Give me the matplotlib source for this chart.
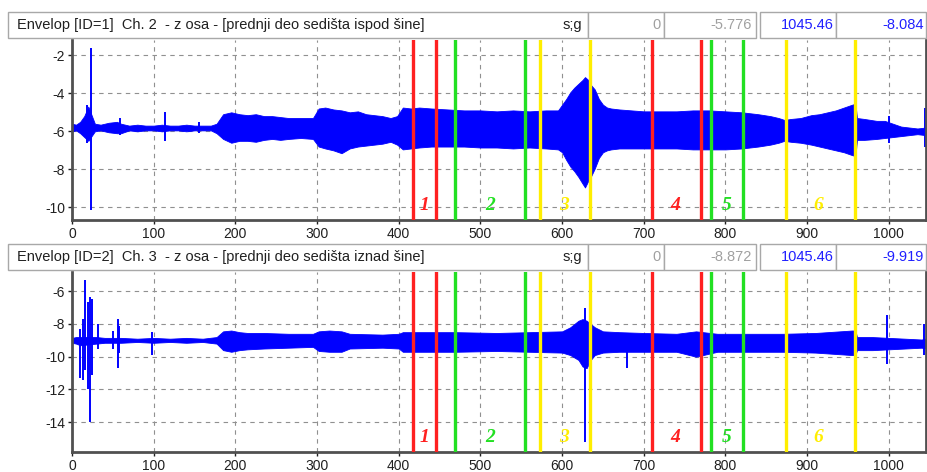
import matplotlib.pyplot as plt
from matplotlib.patches import Rectangle

# ---- data ----
# channel 2 (top): envelope of the signal, time in s, values in g
t1 = [0, 5, 10, 15, 20, 28, 35, 45, 55, 60, 70, 80, 90, 100, 110, 120, 130, 140, 150, 160,
      170, 177, 185, 195, 205, 215, 225, 235, 245, 255, 265, 280, 295, 302, 310, 320, 330,
      340, 350, 360, 370, 380, 390, 398, 405, 415, 425, 440, 460, 480, 500, 520, 540, 560,
      580, 595, 600, 605, 610, 615, 620, 625, 628, 632, 635, 640, 645, 650, 655, 660, 670,
      685, 700, 720, 740, 760, 780, 800, 820, 840, 855, 865, 872, 880, 892, 905, 915, 925,
      935, 945, 955, 959, 961, 970, 985, 995, 1005, 1015, 1025, 1035, 1045]
up1 = [-5.6, -5.65, -5.5, -5.2, -4.7, -5.6, -5.65, -5.55, -5.5, -5.6, -5.7, -5.65, -5.7, -5.7,
       -5.65, -5.7, -5.7, -5.65, -5.7, -5.7, -5.7, -5.6, -5.1, -5.0, -5.1, -5.15, -5.1, -5.2,
       -5.2, -5.25, -5.3, -5.3, -5.3, -4.8, -4.75, -4.85, -4.9, -5.0, -4.95, -5.1, -5.15, -5.2,
       -5.3, -5.2, -4.75, -4.8, -4.75, -4.8, -4.85, -4.9, -4.9, -4.95, -4.9, -4.95, -4.9, -4.9,
       -4.6, -4.3, -3.95, -3.7, -3.5, -3.3, -3.15, -3.3, -3.55, -3.8, -4.3, -4.6, -4.75, -4.8,
       -4.85, -4.9, -4.95, -4.95, -4.95, -4.9, -4.9, -4.95, -5.0, -5.1, -5.2, -5.3, -5.4, -5.35,
       -5.3, -5.15, -5.1, -5.0, -4.9, -4.75, -4.6, -4.55, -5.3, -5.35, -5.45, -5.45, -5.6, -5.75,
       -5.8, -5.85, -5.8]
lo1 = [-6.0, -5.95, -6.1, -6.3, -6.5, -6.0, -5.95, -6.05, -6.1, -6.1, -5.95, -6.0, -5.95, -5.95,
       -6.0, -5.95, -5.95, -6.0, -5.95, -5.95, -5.95, -6.1, -6.4, -6.6, -6.5, -6.5, -6.55, -6.45,
       -6.4, -6.45, -6.4, -6.35, -6.4, -6.8, -6.9, -7.0, -7.15, -6.9, -6.8, -6.75, -6.7, -6.65,
       -6.55, -6.7, -6.95, -6.9, -6.85, -6.8, -6.8, -6.8, -6.85, -6.85, -6.9, -6.85, -6.9, -6.95,
       -7.1, -7.5, -7.85, -8.1, -8.4, -8.75, -8.95, -8.6, -8.4, -7.95, -7.4, -7.1, -7.0, -6.95,
       -6.9, -6.9, -6.9, -6.9, -6.9, -6.95, -6.95, -6.95, -6.9, -6.8, -6.7, -6.6, -6.5, -6.55,
       -6.6, -6.7, -6.8, -6.9, -7.0, -7.1, -7.25, -7.3, -6.45, -6.45, -6.4, -6.35, -6.3, -6.25,
       -6.2, -6.15, -6.2]
spk1_t = [18, 23, 59, 114, 155, 1000, 1044]
spk1_lo = [-6.6, -10.15, -6.2, -6.5, -6.1, -6.6, -6.8]
spk1_hi = [-4.6, -1.6, -5.3, -5.0, -5.5, -5.2, -4.8]

# channel 3 (bottom)
t2 = [0, 5, 10, 30, 40, 60, 80, 100, 120, 140, 160, 177, 185, 195, 205, 215, 235, 265, 295,
      302, 315, 330, 340, 380, 400, 405, 430, 470, 520, 560, 600, 610, 620, 625, 630, 635,
      640, 650, 670, 700, 740, 764, 790, 830, 870, 910, 940, 955, 959, 961, 980, 1000, 1020,
      1040, 1045]
up2 = [-8.85, -8.8, -8.8, -8.8, -8.85, -8.85, -8.9, -8.85, -8.9, -8.85, -8.9, -8.8, -8.45, -8.4,
       -8.5, -8.55, -8.55, -8.6, -8.6, -8.45, -8.4, -8.45, -8.6, -8.65, -8.6, -8.5, -8.5, -8.5,
       -8.55, -8.5, -8.45, -8.2, -7.8, -7.7, -7.8, -8.0, -8.2, -8.45, -8.5, -8.55, -8.6, -8.45,
       -8.6, -8.6, -8.6, -8.55, -8.45, -8.4, -8.4, -8.8, -8.8, -8.85, -8.9, -8.95, -8.9]
lo2 = [-9.15, -9.2, -9.3, -9.2, -9.15, -9.15, -9.1, -9.15, -9.1, -9.15, -9.1, -9.2, -9.6, -9.7,
       -9.6, -9.55, -9.5, -9.45, -9.4, -9.65, -9.7, -9.7, -9.5, -9.45, -9.5, -9.7, -9.7, -9.7,
       -9.65, -9.7, -9.75, -9.9, -10.2, -10.6, -10.7, -10.2, -9.9, -9.75, -9.7, -9.7, -9.7, -10.0,
       -9.7, -9.7, -9.7, -9.75, -9.85, -9.9, -9.9, -9.6, -9.6, -9.55, -9.5, -9.45, -9.5]
spk2_t = [10, 14, 16, 20, 22, 25, 32, 50, 56, 58, 98, 628, 680, 998, 1043]
spk2_lo = [-11.3, -11.45, -10.8, -12.0, -14.0, -11.1, -9.5, -9.5, -10.7, -9.8, -9.9, -15.2, -10.7, -10.43, -9.9]
spk2_hi = [-8.3, -7.7, -5.33, -6.65, -6.35, -6.5, -8.0, -8.4, -7.67, -8.1, -8.5, -7.0, -9.0, -7.43, -8.0]

# marker lines and section numbers
marks = [418, 445, 469, 555, 573, 634, 710, 770, 782, 822, 874, 959]
mark_colors = ['#ff2020', '#ff2020', '#22e022', '#22e022', '#ffee00', '#ffee00',
               '#ff2020', '#ff2020', '#22e022', '#22e022', '#ffee00', '#ffee00']
sec_labels = ['1', '2', '3', '4', '5', '6']
sec_pos = [432, 512, 602, 738, 802, 914]
sec_colors = ['#ff2020', '#22e022', '#ffee00', '#ff2020', '#22e022', '#ffee00']

titles = ['Envelop [ID=1]  Ch. 2  - z osa - [prednji deo sedišta ispod šine]',
          'Envelop [ID=2]  Ch. 3  - z osa - [prednji deo sedišta iznad šine]']
cursor_vals = [['0', '-5.776', '1045.46', '-8.084'],
               ['0', '-8.872', '1045.46', '-9.919']]

W, H = 928, 472
plt.rcParams['font.family'] = ['Liberation Sans', 'DejaVu Sans']
plt.rcParams['axes.unicode_minus'] = False
fig = plt.figure(figsize=(W / 100, H / 100), dpi=100)


def px(x0, y0, x1, y1):
    # pixel box (from top-left) -> figure rect
    return [x0 / W, 1 - y1 / H, (x1 - x0) / W, (y1 - y0) / H]


def header(ytop, title, vals):
    yb = ytop + 26
    boxes = [(8, 588), (588, 664), (664, 756), (760, 836), (836, 926)]
    for a, b in boxes:
        r = px(a, ytop, b, yb)
        fig.patches.append(Rectangle((r[0], r[1]), r[2], r[3], transform=fig.transFigure,
                                     facecolor='white', edgecolor='#a8a8a8', lw=1))
    ym = 1 - (ytop + 13) / H
    fig.text(17 / W, ym, title, fontsize=10.5, va='center', ha='left', color='#202020')
    fig.text(582 / W, ym, 's;g', fontsize=10.5, va='center', ha='right', color='#202020')
    cols = ['#a0a0a0', '#a0a0a0', '#2020ff', '#2020ff']
    rights = [661, 752, 834, 924]
    for v, c, r in zip(vals, cols, rights):
        fig.text(r / W, ym, v, fontsize=10.5, va='center', ha='right', color=c)


def panel(rect, t, up, lo, st, slo, shi, ylim, yticks):
    ax = fig.add_axes(rect)
    ax.fill_between(t, lo, up, color='blue', lw=0.6, edgecolor='blue', zorder=2)
    ax.vlines(st, slo, shi, color='blue', lw=1.4, zorder=2)
    for m, c in zip(marks, mark_colors):
        ax.axvline(m, color=c, lw=2.4, zorder=3)
    for s, p, c in zip(sec_labels, sec_pos, sec_colors):
        ax.text(p, 0.08, s, transform=ax.get_xaxis_transform(), color=c, fontsize=14,
                family='Liberation Serif', style='italic', weight='bold', ha='center',
                va='center', zorder=4)
    ax.set_xlim(0, 1045.46)
    ax.set_ylim(*ylim)
    ax.set_xticks(range(0, 1001, 100))
    ax.set_yticks(yticks)
    ax.grid(True, color='#909090', ls=(0, (4, 4)), lw=0.8, zorder=0)
    ax.tick_params(labelsize=10, length=3, width=1, colors='#202020', pad=2)
    for sp in ['left', 'bottom', 'right']:
        ax.spines[sp].set_color('#505050')
        ax.spines[sp].set_linewidth(2)
    ax.spines['top'].set_visible(False)
    return ax


header(12, titles[0], cursor_vals[0])
panel(px(72, 40, 926, 220), t1, up1, lo1, spk1_t, spk1_lo, spk1_hi,
      (-10.66, -1.2), [-2, -4, -6, -8, -10])
header(244, titles[1], cursor_vals[1])
panel(px(72, 272, 926, 452), t2, up2, lo2, spk2_t, spk2_lo, spk2_hi,
      (-15.83, -4.82), [-6, -8, -10, -12, -14])

fig.savefig('out.png', dpi=100)
